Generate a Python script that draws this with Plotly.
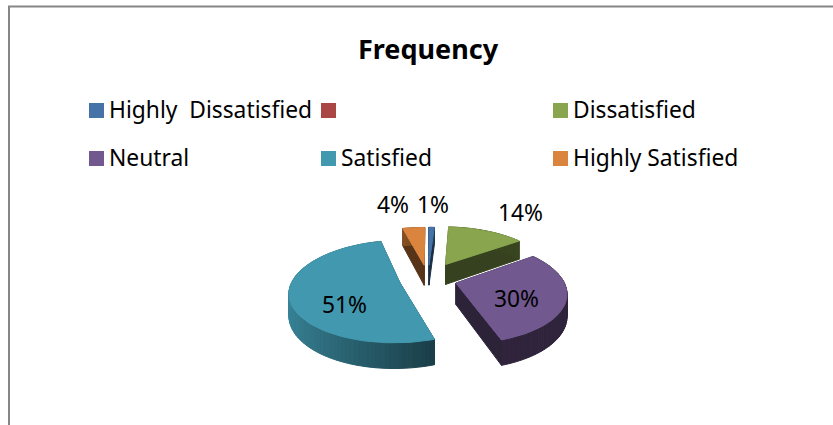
import numpy as np
import plotly.graph_objects as go

# Survey results
categories = ["Highly\u00a0 Dissatisfied", "", "Dissatisfied", "Neutral", "Satisfied", "Highly Satisfied"]
shares = [1, 0, 14, 30, 51, 4]

# Styling per category
colors = ["#4572A7", "#AA4643", "#89A54E", "#71588F", "#4198AF", "#DB843D"]
explode = [0.30, 0.0, 0.36, 0.27, 0.27, 0.30]

W, H = 833, 425
FONT = "Noto Sans"
TEXT_SIZE = 22.8

# Projection of the tilted pie onto the page
CX, CY = 428.0, 279.0
RX, RY = 107.0, 48.5
PERSP = 0.17
DEPTH = 21.0


def project(x, y, z=0.0):
    w = 1 + PERSP * np.asarray(y, dtype=float)
    return CX + RX * np.asarray(x) / w, CY - RY * np.asarray(y) / w + DEPTH * z / w


def shade(hex_color, factor):
    rgb = [int(hex_color[i:i + 2], 16) for i in (1, 3, 5)]
    return "rgb({},{},{})".format(*[int(c * factor) for c in rgb])


def polygon(xs, ys, color):
    return go.Scatter(x=list(xs), y=list(ys), mode="lines", fill="toself", fillcolor=color,
                      line=dict(color=color, width=1), hoverinfo="skip", showlegend=False)


def wedge_traces(start, end, color, offset):
    """Faces of one exploded slice, hidden faces first and the top face last."""
    mid = (start + end) / 2
    ox, oy = offset * np.sin(mid), offset * np.cos(mid)
    t = np.linspace(start, end, max(4, int(np.degrees(end - start) / 2)))
    ax, ay = ox + np.sin(t), oy + np.cos(t)
    traces = []
    # radial side walls
    for edge in (t[0], t[-1]):
        ex, ey = ox + np.sin(edge), oy + np.cos(edge)
        x0, y0 = project([ox, ex], [oy, ey], 0.0)
        x1, y1 = project([ex, ox], [ey, oy], 1.0)
        traces.append(polygon(np.r_[x0, x1, x0[0]], np.r_[y0, y1, y0[0]], shade(color, 0.40)))
    # rim, shaded strip by strip so the light falls off towards the right
    for i in range(len(t) - 1):
        u = np.sin((t[i] + t[i + 1]) / 2)
        factor = max(0.42, 0.52 - 0.35 * u)
        x0, y0 = project(ax[i:i + 2], ay[i:i + 2], 0.0)
        x1, y1 = project(ax[i:i + 2][::-1], ay[i:i + 2][::-1], 1.0)
        traces.append(polygon(np.r_[x0, x1, x0[0]], np.r_[y0, y1, y0[0]], shade(color, factor)))
    # top face
    tx, ty = project(np.r_[ox, ax, ox], np.r_[oy, ay, oy], 0.0)
    traces.append(polygon(tx, ty, color))
    return traces


fig = go.Figure()

# Slice angles run clockwise from twelve o'clock
edges = np.radians(np.cumsum([0] + shares) * 3.6)
slices = [(i, edges[i], edges[i + 1]) for i in range(len(shares)) if shares[i] > 0]

# Painter's order: far slices first, near slices last
slices.sort(key=lambda s: -np.cos((s[1] + s[2]) / 2))
for i, a, b in slices:
    for trace in wedge_traces(a, b, colors[i], explode[i]):
        fig.add_trace(trace)

annotations = []
shapes = []

# Percentage labels
label_pos = {0: (433, 204), 2: (520, 212), 3: (516, 298), 4: (344, 304), 5: (393, 204)}
for i, (lx, ly) in label_pos.items():
    annotations.append(dict(x=lx, y=ly, xref="x", yref="y", text=f"{shares[i]}%", showarrow=False,
                            font=dict(family=FONT, size=TEXT_SIZE, color="#000000"),
                            xanchor="center", yanchor="middle"))

# Title
annotations.append(dict(x=428, y=48, xref="x", yref="y", text="<b>Frequency</b>", showarrow=False,
                        font=dict(family=FONT, size=27, color="#000000"),
                        xanchor="center", yanchor="middle"))

# Three-column legend
legend_cols = [89, 321, 553]
legend_rows = [110.5, 158.5]
for n, (name, color) in enumerate(zip(categories, colors)):
    lx = legend_cols[n % 3]
    ly = legend_rows[n // 3]
    shapes.append(dict(type="rect", xref="x", yref="y", x0=lx, x1=lx + 15, y0=ly - 7.5, y1=ly + 7.5,
                       fillcolor=color, line=dict(width=0)))
    if name:
        annotations.append(dict(x=lx + 18, y=ly - 1, xref="x", yref="y", text=name, showarrow=False,
                                font=dict(family=FONT, size=TEXT_SIZE, color="#000000"),
                                xanchor="left", yanchor="middle"))

# Chart frame: only the top and left edges fall inside the page
shapes.append(dict(type="path", path=f"M 9 {H + 5} L 9 6.5 L {W + 5} 6.5", xref="x", yref="y",
                   line=dict(color="#868686", width=2)))

fig.update_layout(
    width=W, height=H,
    margin=dict(l=0, r=0, t=0, b=0),
    paper_bgcolor="#ffffff", plot_bgcolor="#ffffff",
    showlegend=False,
    hovermode=False,
    xaxis=dict(range=[0, W], visible=False, fixedrange=True),
    yaxis=dict(range=[H, 0], visible=False, fixedrange=True),
    annotations=annotations,
    shapes=shapes,
)

fig.write_html("out.html")
